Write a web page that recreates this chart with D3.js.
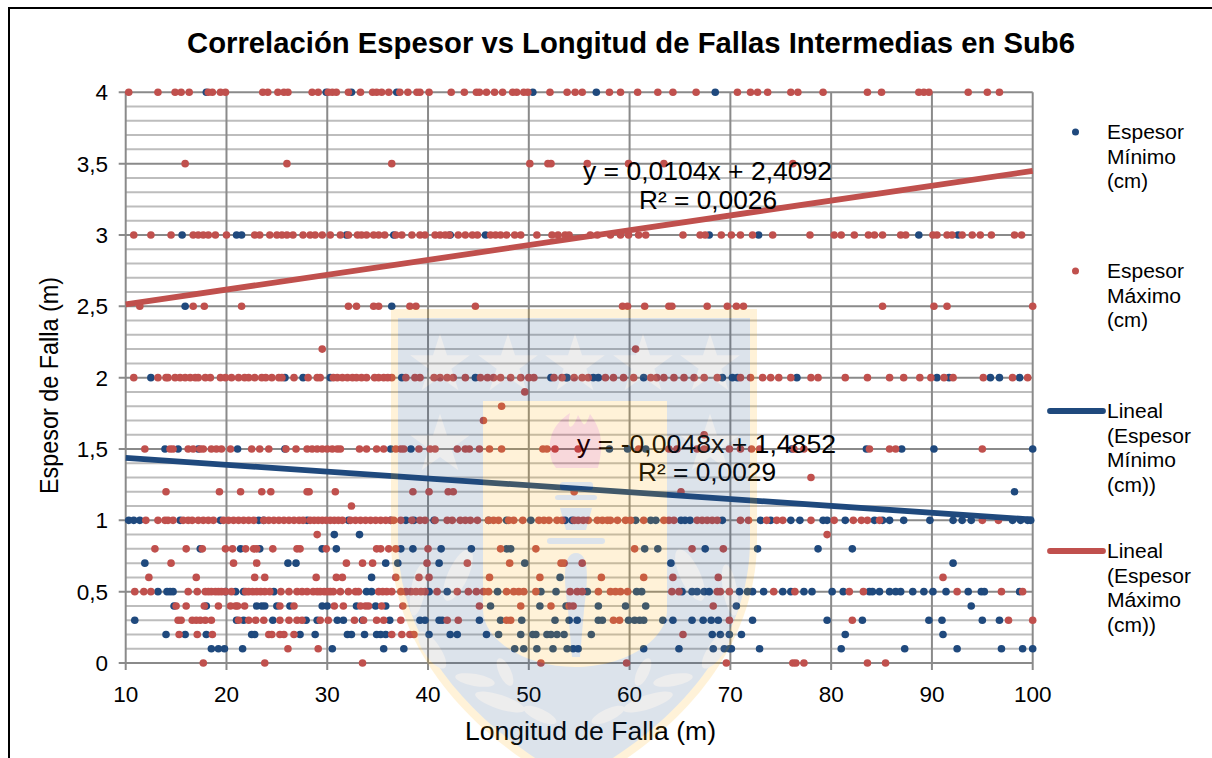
<!DOCTYPE html>
<html><head><meta charset="utf-8">
<script src="https://cdn.jsdelivr.net/npm/d3@7"></script>
<style>html,body{margin:0;padding:0;background:#fff}svg{display:block}text{font-family:"Liberation Sans",Arial,sans-serif;fill:#000}</style>
</head><body><svg id="c" width="1212" height="758"></svg>
<script>
// ---- Data: x position (Longitud, m) of every point, grouped by y value (Espesor, m)
const minAt400=[18,29.9,32.4,36.9,50.4,56.7,68.5];
const maxAt400=[10.3,13.2,14.9,15.5,16.3,18.2,18.6,19.4,19.9,23.6,24.1,25.1,25.7,26.1,28.5,29.1,30.1,30.5,30.9,32.1,33.3,34.5,34.9,35.4,36.1,37.2,38,38.9,39.2,40.1,42.3,43.6,44.8,45.1,45.8,46.6,47.4,48.4,48.8,49.5,49.9,52.1,53.8,54.6,55.3,58,59.1,60.8,62.8,64.3,66.6,70.7,72,72.7,73.7,76,76.7,79.2,83.6,85,88.7,89.2,89.7,93.6,95.5,96.7];
const maxAt350=[15.9,26,36.4,50.1,51.9,52.2,55.8,59.9,63.4,76.2];
const minAt300=[15.6,21,21.5,31.9,36.6,42.2,45.7,67.9,72.8,88.7,92.6];
const maxAt300=[10.8,12.5,14.5,16.7,17.2,17.7,18.2,18.9,20,22.8,23.3,24.3,25,25.5,26,26.6,27.6,28.3,28.8,29.5,30.3,31.3,32.1,33,33.4,33.9,34.6,35.1,35.7,36.8,37.4,38.4,39.2,39.7,40.7,41.2,41.7,42.1,43,43.7,44.4,44.9,46.2,46.7,47.2,47.8,48.6,49.2,50.8,52.3,52.9,53.6,54,56.1,56.8,58.1,59.1,59.9,60.9,61.6,65.3,67,67.5,69.1,70.1,71,72.2,74.2,77.9,80.3,81,82.3,83.7,84.3,85.1,86.9,87.4,90.1,90.5,91.5,92,93,94,94.8,95.9,98.2,98.9];
const minAt250=[15.9,36.4];
const maxAt250=[11.4,16.7,17.8,21.5,32.1,32.9,34.6,35.1,38.2,38.8,44.7,59.3,59.8,61.5,63.9,64.2,67.7,69.7,70.6,71.3,85.1,90.2,91.5,100];
const maxAt220=[29.5,60.6];
const minAt200=[12.5,25.8,27.6,30.3,37.4,44.7,52.2,53.7,53.8,56.4,56.9,61.4,69.2,70.2,70.7,76.6,90.5,91.7,95.8,96.7,98.7];
const maxAt200=[10.8,13.2,14,14.2,14.9,15.4,15.9,16.4,16.9,17.2,17.9,18.4,19.4,19.9,20.5,21.2,21.8,22.2,22.8,23.5,23.9,24.5,25.2,25.5,26.7,28.1,29,29.3,30.6,31,31.5,32,32.5,32.9,33.4,33.9,34.7,35.1,35.6,36,36.4,37.8,38.7,39.2,40.6,41.2,41.9,42.5,43.7,45.2,45.9,46.5,47.2,48.2,49.2,50,50.5,52.5,53.3,54.5,55.3,55.9,57.6,58.4,59.4,60.4,62.1,62.7,63.4,64.4,65.4,66.4,67.4,68.7,71,72,73.2,74,74.8,76,78,78.7,81.4,83.6,85.8,87.2,88.8,89.9,91.2,92.1,95.1,98,99.5];
const maxAt190=[49.6];
const maxAt180=[47.3];
const maxAt170=[45.5];
const maxAt160=[67.4];
const minAt150=[13.9,15.2,17.2,21.1,25.8,36.3,38.3,58,59.8,61.6,76.1,83.5,87,90.2,100];
const maxAt150=[11.9,14.4,14.7,16.2,16.7,17.4,17.7,18.5,19,19.5,20.4,22.5,23.3,24.2,25.9,26.9,28,28.5,29,29.5,30,30.5,31,31.3,33.2,33.9,34.9,35.6,36.8,37.3,37.6,39.1,40.2,40.7,42.9,43.7,44.1,45.1,46.1,47.3,51.4,51.8,52.6,54.9,60.9,63.9,64.7,66.7,67.4,69.9,71,72.1,72.9,76.3,77.3,83.8,85.8,86.4,95];
const maxAt130=[78];
const minAt120=[98.2];
const maxAt120=[14,19.3,21.4,23.5,24.4,28,28.2,30.8,38.5,40.1,42,42.5,54.5,65.1];
const maxAt110=[32.4];
const minAt100=[10.3,10.8,11.4,15.4,19.4,23.2,23.7,28,32.1,36.3,37.8,38.6,40.6,46,47.8,50.2,53.6,54.3,60.6,62.1,62.6,65.1,65.5,66,69.2,73,74,76,76.9,79.2,79.6,81.4,84.3,85.1,85.8,87.2,89.8,92.1,93,93.9,98,98.8,99.5,99.8];
const maxAt100=[12,13.2,13.9,14.2,14.7,15.7,16.2,16.6,17.2,17.7,18.2,18.7,19.7,20.2,20.7,21.2,21.7,22.2,22.7,23.7,24.2,24.7,25.2,25.7,26.2,26.7,27.2,27.6,28.3,28.7,29.1,29.5,29.9,30.3,30.7,31.1,31.5,32.3,32.8,33.3,33.8,34.3,34.8,35.3,35.8,36.3,36.6,37.3,38.4,39.2,39.7,40.7,41.9,42.4,43.2,43.7,44.2,44.9,46,46.5,47,48,48.5,49.4,51,51.5,52,52.8,53.3,54.5,54.9,55.4,55.9,56.8,57.3,57.8,58.1,58.8,59.6,60.1,61.4,63.4,63.9,64.4,66.7,67.2,67.7,68.2,68.7,71,71.8,73.6,74.6,75.2,78,80.3,82.2,83,83.6,84.8,95,96.6];
const minAt090=[30.7,33.2];
const maxAt090=[29,79.6];
const minAt080=[17.4,21.4,23.3,29.5,30.9,37.3,38.5,41.3,44.3,47.8,48.2,61.5,62.8,67.5,72.7,78.7,82.1];
const maxAt080=[12.9,16,17.6,19.9,20.6,21.9,22.7,23,24.6,27,27.3,29.9,34.9,35.3,36.1,36.8,40,47.2,50.7,60.5,66.2,69.3];
const minAt070=[11.9,26.1,26.9,35.8,37,41.1,49.6,64.1,92.1];
const maxAt070=[14.5,20.7,23,31.9,33.5,34.5,39.9,43.9,48.1,53.2,53.5,55.3];
const minAt060=[34.4,53.1];
const maxAt060=[12.3,17,22.8,23.8,28.9,30.9,31.5,36.8,39.1,40.1,46.1,51.1,57.2,61.4,64.3,68.8,91.1];
const minAt050=[13.2,14.1,14.4,14.7,19.9,20.9,21.7,24.7,33.9,34.4,40.1,41.9,46.9,51.2,52.7,55.8,60.7,61.2,65.2,66.2,66.7,67.4,67.9,70.9,71.7,72.2,73.3,75.2,76,77.3,78.1,80.1,81.2,83.8,84.1,84.8,85.8,86.4,86.9,88.1,89.2,90.1,91.4,93.6,94.9,95.2,98.7];
const maxAt050=[10.9,11.8,12.5,16.2,17.1,17.9,18.2,18.5,18.9,19.2,19.5,19.9,20.5,21.9,22.2,22.6,23,23.4,23.8,24.3,25.4,26.2,27,27.5,28,28.6,29,29.3,29.7,30,30.3,30.6,31.3,32.1,32.8,33.1,35.1,35.5,35.9,36.4,37.3,37.8,38.3,38.8,39.3,39.7,40.9,42.9,44,44.8,45.5,46,47.8,48.5,49,49.5,50.7,54.1,54.8,55.3,56.9,58.1,58.6,59.1,59.8,64.2,64.9,68.7,69,69.9,74.3,76.4,81.8,83.2,92.5,96.9,99];
const minAt040=[14.8,18,23,23.5,23.8,25,26.3,29.5,30,32.9,34.8,35.8,46.2,51.1,53.7,56.9,59.6,61.6,70.6,93.9];
const maxAt040=[15,16,17.8,19.2,20.4,20.9,21.1,21.8,25.3,26.7,30.7,31.6,33.3,33.8,34.1,35.4,37.5,45.1,49.2,52.2,54,54.4,68.3];
const minAt030=[10.9,21,21.7,24.6,27.9,29,31,31.6,33.5,36.2,39.2,39.7,41.1,41.4,45.1,47.2,49.3,52.6,54,54.8,56.9,57.3,59.9,60.5,61,61.4,63.3,64.3,66.2,67.3,68.1,68.8,72.2,79.6,83.1,89.7,91,95,96.7];
const maxAt030=[15.2,15.5,16.6,17,17.4,17.9,18.5,21.2,22.2,22.9,23.7,25.3,26.2,27,27.5,29.3,30.1,32.7,33.6,34.9,35.6,37.3,41.9,43,47.8,48.2,58.4,59,69.9,82.1,97.6,100];
const minAt020=[14,15.9,18,22.5,22.8,27.3,28.8,32,32.4,33.7,34.9,35.3,35.8,40.1,42.2,42.9,45.8,47,49.2,50.4,50.7,51.8,52.2,52.8,53.5,56.2,68.2,69,69.9,71.1,81.4,91.1];
const maxAt020=[15.3,17.1,18.6,24.2,24.5,25.3,25.7,26.7,36.4,37.4,38.2,38.6,65.3];
const minAt010=[18.5,19.2,19.8,21.6,30.5,35.6,37.6,48.6,49.5,50.8,52.4,53.8,54.4,54.9,61.4,64.9,68.3,69.4,69.9,70.1,72.9,81,87.3,92.5,96.9,99,100];
const maxAt010=[26.1,29.1];
const maxAt000=[17.7,23.8,33.5,51.2,59.7,69.6,76.2,76.5,77.3,83.6,85.4];

const levelsMin=[[4,minAt400],[3,minAt300],[2.5,minAt250],[2,minAt200],[1.5,minAt150],[1.2,minAt120],[1,minAt100],[.9,minAt090],[.8,minAt080],[.7,minAt070],[.6,minAt060],[.5,minAt050],[.4,minAt040],[.3,minAt030],[.2,minAt020],[.1,minAt010]];
const levelsMax=[[4,maxAt400],[3.5,maxAt350],[3,maxAt300],[2.5,maxAt250],[2.2,maxAt220],[2,maxAt200],[1.9,maxAt190],[1.8,maxAt180],[1.7,maxAt170],[1.6,maxAt160],[1.5,maxAt150],[1.3,maxAt130],[1.2,maxAt120],[1.1,maxAt110],[1,maxAt100],[.9,maxAt090],[.8,maxAt080],[.7,maxAt070],[.6,maxAt060],[.5,maxAt050],[.4,maxAt040],[.3,maxAt030],[.2,maxAt020],[.1,maxAt010],[0,maxAt000]];

const trendEndsX=[10,100];
const trendMinY=[1.437,1.005];
const trendMaxY=[2.513,3.449];
const xTicks=[10,20,30,40,50,60,70,80,90,100];
const yMajor=[0,.5,1,1.5,2,2.5,3,3.5,4];
const yMinor=[.1,.2,.3,.4,.6,.7,.8,.9,1.1,1.2,1.3,1.4,1.6,1.7,1.8,1.9,2.1,2.2,2.3,2.4,2.6,2.7,2.8,2.9,3.1,3.2,3.3,3.4,3.6,3.7,3.8,3.9];
const titleText="Correlación Espesor vs Longitud de Fallas Intermedias en Sub6";
const BLUE="#1f497d",RED="#c0504d";

const svg=d3.select("#c");
const x=d3.scaleLinear().domain([10,100]).range([125.7,1032.7]);
const y=d3.scaleLinear().domain([0,4]).range([663,92.3]);
const fmt=v=>String(v).replace(".",",");
function flat(levels){return levels.flatMap(([v,xs])=>xs.map(d=>({x:d,y:v})));}
function txt(px,py,s,size,w,anchor,weight){
  const t=svg.append("text").attr("x",px).attr("y",py).attr("font-size",size).text(s);
  if(anchor)t.attr("text-anchor",anchor);
  if(weight)t.attr("font-weight",weight);
  if(w)t.attr("textLength",w).attr("lengthAdjust","spacingAndGlyphs");
  return t;
}

// frame
svg.append("path").attr("d","M9 758V8H1212").attr("fill","none").attr("stroke","#000").attr("stroke-width",2);

// grid
const g=svg.append("g");
g.selectAll(".mi").data(yMinor).join("line").attr("x1",x(10)).attr("x2",x(100)).attr("y1",d=>y(d)).attr("y2",d=>y(d)).attr("stroke","#bdbdbd").attr("stroke-width",2);
g.selectAll(".ma").data(yMajor).join("line").attr("x1",x(10)-7).attr("x2",x(100)).attr("y1",d=>y(d)).attr("y2",d=>y(d)).attr("stroke","#8a8a8a").attr("stroke-width",2);
g.selectAll(".v").data(xTicks).join("line").attr("x1",d=>x(d)).attr("x2",d=>x(d)).attr("y1",y(4)).attr("y2",y(0)+7).attr("stroke","#8a8a8a").attr("stroke-width",2);

// tick labels
yMajor.forEach(v=>txt(108,y(v)+8,fmt(v),22.5,null,"end"));
xTicks.forEach(v=>txt(x(v),702,fmt(v),22.5,null,"middle"));

// points
const pts=svg.append("g");
pts.selectAll(".a").data(flat(levelsMin)).join("circle").attr("cx",d=>x(d.x)).attr("cy",d=>y(d.y)).attr("r",3.8).attr("fill",BLUE);
pts.selectAll(".b").data(flat(levelsMax)).join("circle").attr("cx",d=>x(d.x)).attr("cy",d=>y(d.y)).attr("r",3.8).attr("fill",RED);

// trend lines
const line=d3.line().x(d=>x(d[0])).y(d=>y(d[1]));
svg.append("path").attr("d",line(trendEndsX.map((d,i)=>[d,trendMinY[i]]))).attr("stroke",BLUE).attr("stroke-width",5.8).attr("fill","none");
svg.append("path").attr("d",line(trendEndsX.map((d,i)=>[d,trendMaxY[i]]))).attr("stroke",RED).attr("stroke-width",5.8).attr("fill","none");

// trend labels
txt(583,180,"y = 0,0104x + 2,4092",26,249);
txt(639,209,"R² = 0,0026",26,138);
txt(577,453,"y = -0,0048x + 1,4852",26,259);
txt(638,481,"R² = 0,0029",26,138);

// titles
txt(187,53,titleText,29,888,null,"bold");
txt(465,740,"Longitud de Falla (m)",25,251);
txt(0,0,"Espesor de Falla (m)",25,217).attr("transform","translate(58,494) rotate(-90)");

// legend
const legendRows=[[132,["Espesor","Mínimo","(cm)"],"dot",BLUE],[271,["Espesor","Máximo","(cm)"],"dot",RED],[411,["Lineal","(Espesor","Mínimo","(cm))"],"line",BLUE],[551,["Lineal","(Espesor","Máximo","(cm))"],"line",RED]];
const widths={"Espesor":77,"Mínimo":69,"Máximo":74,"(cm)":41,"Lineal":56,"(Espesor":84,"(cm))":49};
legendRows.forEach(([ly,lines,kind,col])=>{
  if(kind==="dot")svg.append("circle").attr("cx",1075.5).attr("cy",ly).attr("r",3.5).attr("fill",col);
  else svg.append("line").attr("x1",1050).attr("x2",1103).attr("y1",ly).attr("y2",ly).attr("stroke",col).attr("stroke-width",5.8).attr("stroke-linecap","round");
  lines.forEach((s,i)=>txt(1107,ly+7+i*24.7,s,20,widths[s]));
});

// translucent watermark, laid over the chart
const wm=svg.append("g").attr("opacity",.15);
const YEL="#ffb000",SH="#1f4a80",LT="#8c8c8c";
wm.append("path").attr("d","M391 309H757V540C757 640 690 730 574 790C458 730 391 640 391 540Z").attr("fill",YEL);
wm.append("path").attr("d","M398 318H750V540C750 636 685 722 574 781C463 722 398 636 398 540Z").attr("fill",SH);
const star=d3.symbol().type(d3.symbolStar).size(1100);
[[440,365],[508,365],[575,365],[643,365],[710,365],[440,445],[710,445]].forEach(([a,b])=>wm.append("path").attr("d",star()).attr("transform",`translate(${a},${b})`).attr("fill",LT));
[[418,590,7,26,10],[458,575,10,28,25],[432,650,8,22,-35],[475,680,6,20,-80],[505,672,6,15,-25],[500,702,7,26,-72],[540,715,6,18,-65]].forEach(([cx,cy,rx,ry,a])=>{
  wm.append("ellipse").attr("cx",cx).attr("cy",cy).attr("rx",rx).attr("ry",ry).attr("transform",`rotate(${a} ${cx} ${cy})`).attr("fill",LT);
  const mx=2*574-cx;
  wm.append("ellipse").attr("cx",mx).attr("cy",cy).attr("rx",rx).attr("ry",ry).attr("transform",`rotate(${-a} ${mx} ${cy})`).attr("fill",LT);
});
wm.append("path").attr("d","M483 401H667V610C667 640 625 667 575 667C525 667 483 640 483 610Z").attr("fill",YEL);
wm.append("path").attr("d","M552 462C546 440 552 425 570 413C566 430 572 432 578 415C584 425 584 430 590 414C602 430 604 445 598 468H556Z").attr("fill","#d70016");
[[560,482,33,8],[555,495,42,5],[547,538,58,6]].forEach(([a,b,w,h])=>wm.append("rect").attr("x",a).attr("y",b).attr("width",w).attr("height",h).attr("rx",3).attr("fill",SH));
wm.append("path").attr("d","M560 508H592L586 530H566Z").attr("fill",SH);
wm.append("path").attr("d","M576 553C590 553 588 580 584 610L580 657H572L568 610C564 580 562 553 576 553Z").attr("fill",SH);
</script></body></html>
